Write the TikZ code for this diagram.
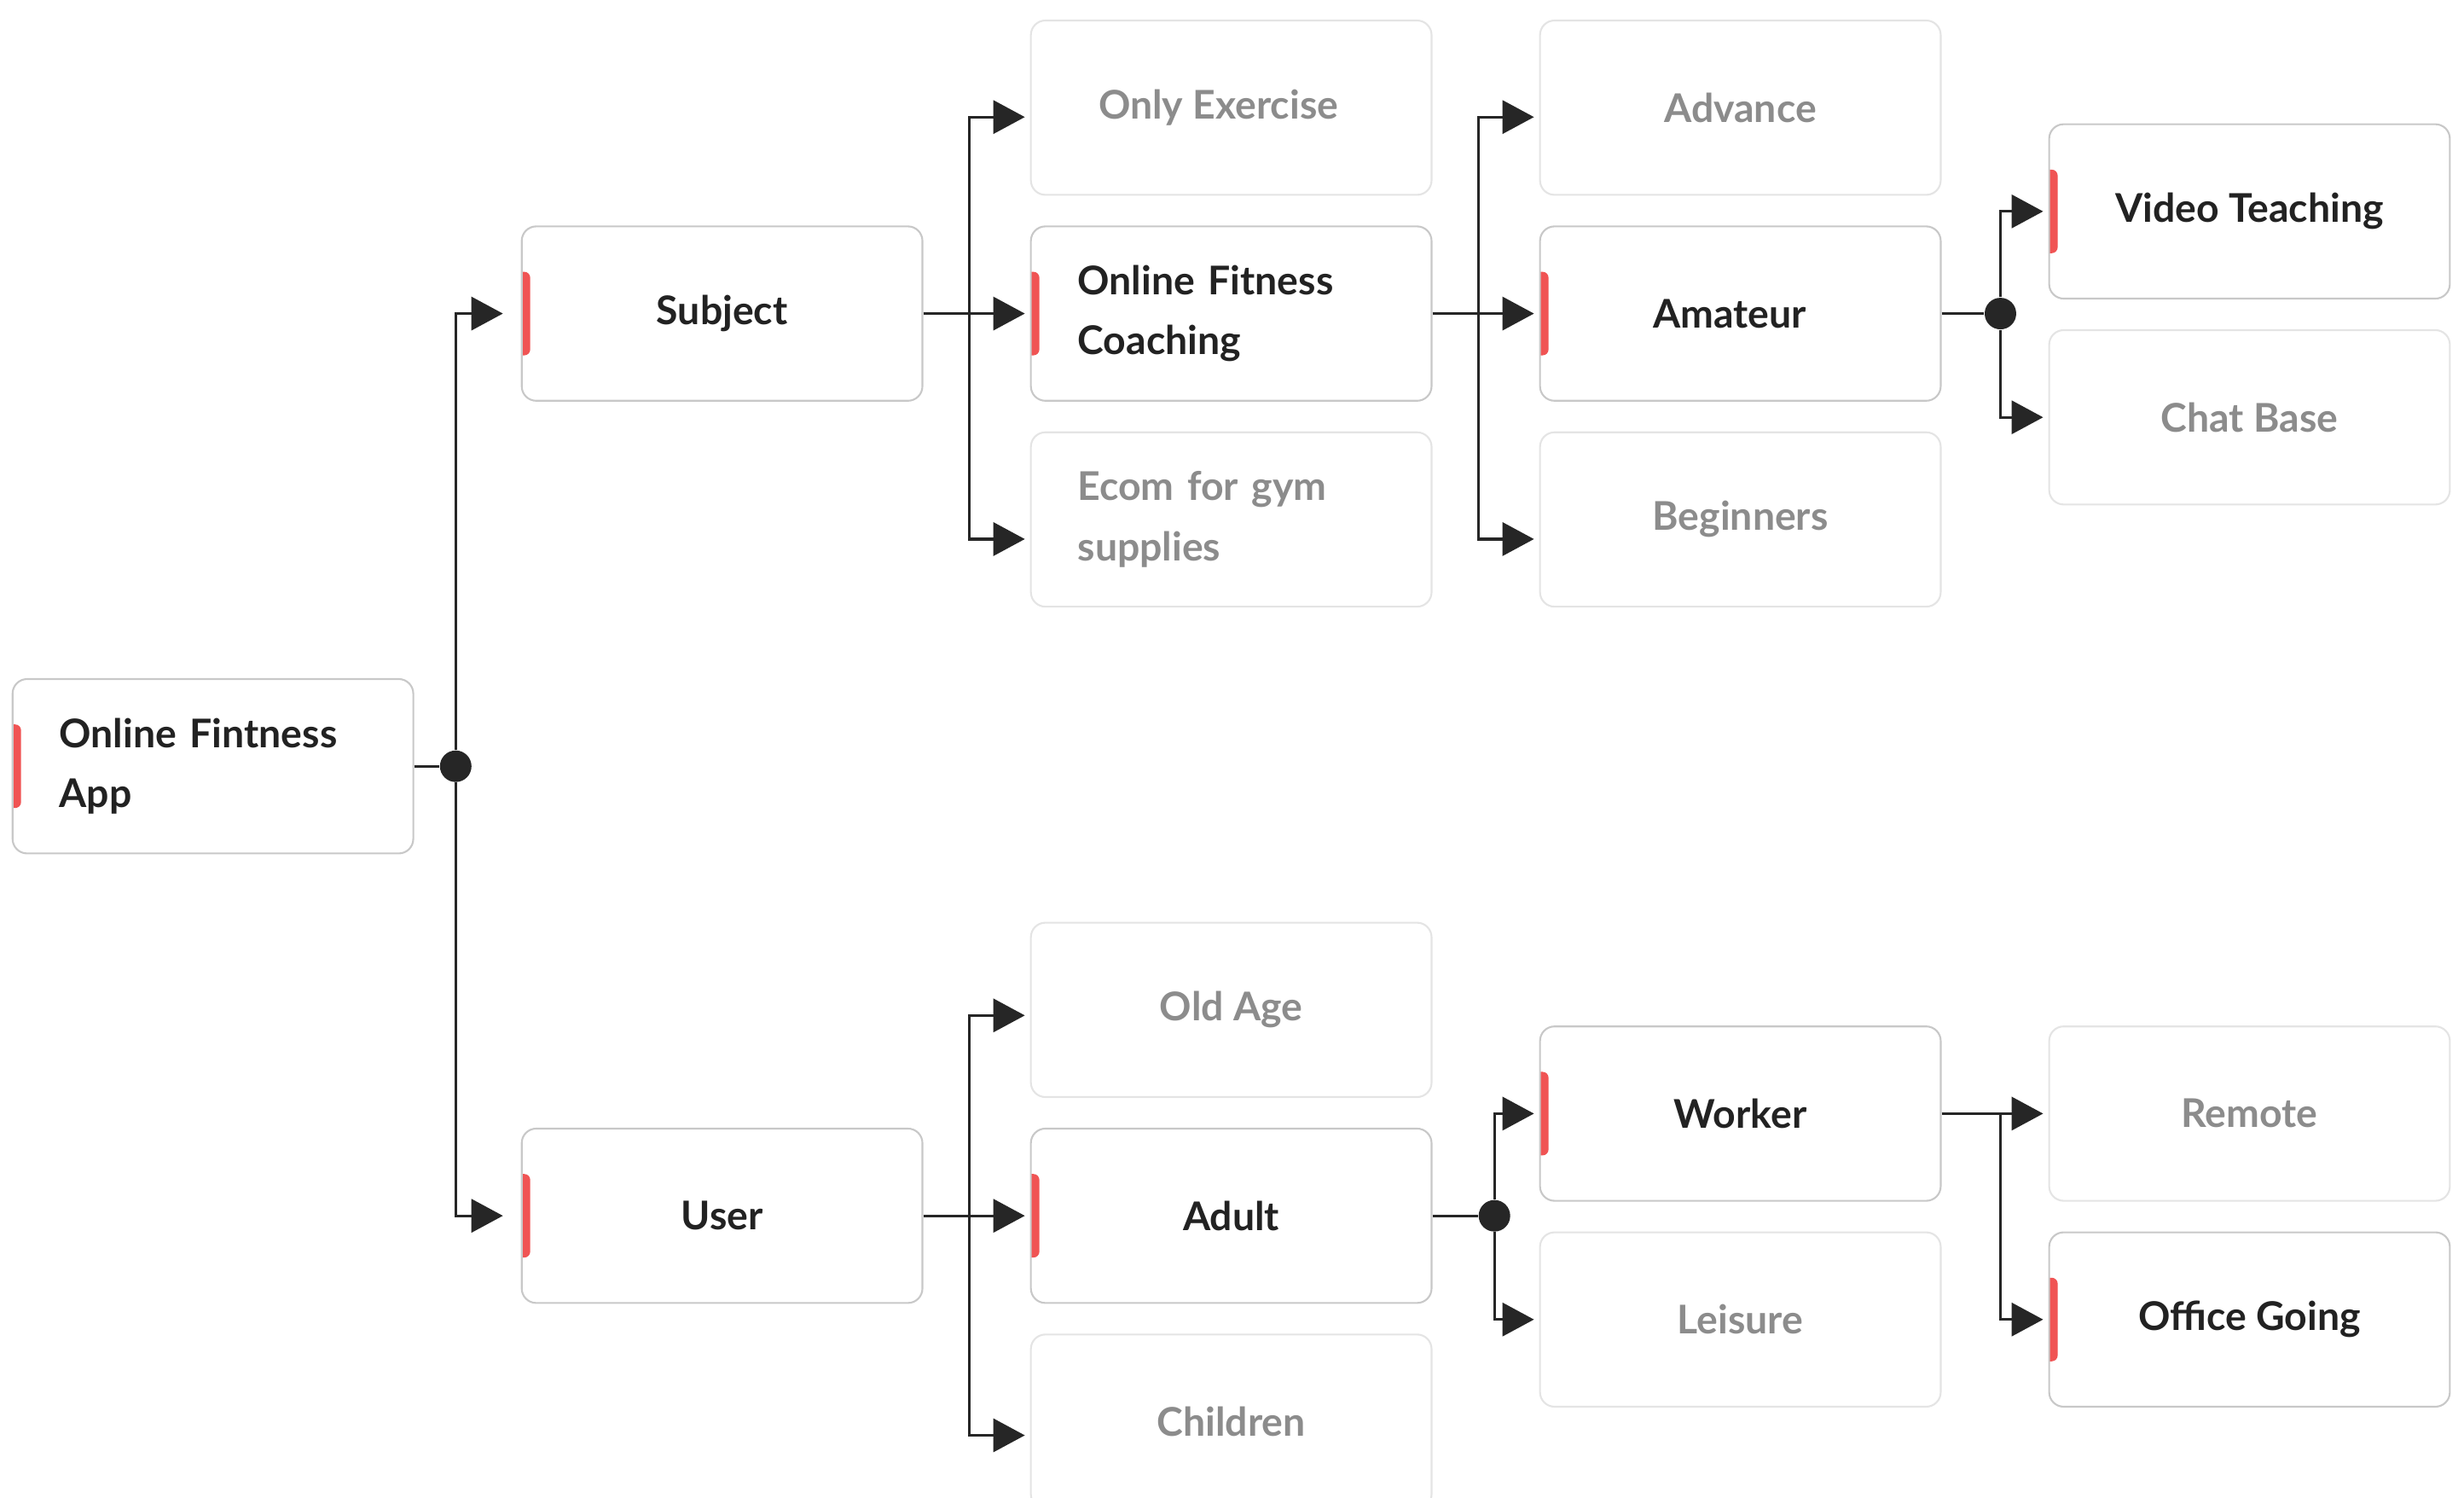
\documentclass[tikz,border=0pt]{standalone}
\usepackage{fontspec}
\setmainfont{Lato}
\usepackage{xcolor}
\usepackage{tikz}
\usetikzlibrary{arrows.meta}

\definecolor{linkclr}{RGB}{38,38,38}
\definecolor{markred}{RGB}{240,84,84}
\definecolor{boxline}{RGB}{200,200,200}
\definecolor{boxlight}{RGB}{228,228,228}
\definecolor{darktext}{RGB}{34,34,34}
\definecolor{greytext}{RGB}{140,140,140}

\begin{document}
\begin{tikzpicture}[
    x=0.018425cm, y=-0.018425cm,
    box/.style={draw=boxline, line width=0.6pt, rounded corners=0.17cm, fill=white,
                minimum width=4.7cm, minimum height=2.045cm, inner sep=0pt, align=center,
                font=\fontsize{13.2}{20}\selectfont\bfseries},
    % ── highlighted topics (red tab on the left) ──
    keynode/.style={box, text=darktext,
        path picture={\fill[markred, rounded corners=0.07cm]
            ([xshift=-0.2cm, yshift=0.49cm]path picture bounding box.west) rectangle
            ([xshift=0.1cm, yshift=-0.49cm]path picture bounding box.west);}},
    % ── faded topics ──
    plainnode/.style={box, draw=boxlight, text=greytext},
    wrap/.style={text width=3.6cm, align=left},
    link/.style={draw=linkclr, line width=0.95pt},
    arr/.style={link, -{Triangle[length=0.37cm, width=0.39cm]}, shorten >=0.06cm},
    junction/.style={circle, fill=linkclr, inner sep=0pt, minimum size=0.37cm},
]

\useasboundingbox (0,0) rectangle (1568,953);

% ══════════════════════════════════════
% Column 1 and 2
% ══════════════════════════════════════
\node[keynode, wrap] (root) at (135.5,487.5) {Online Fintness\\App};
\node[keynode] (subject) at (459.5,199.5) {Subject};
\node[keynode] (user) at (459.5,773.5) {User};

% ══════════════════════════════════════
% Column 3
% ══════════════════════════════════════
\node[plainnode] (onlyex) at (783.5,68.5) {Only Exercise\hspace{0.3cm}};
\node[keynode, wrap] (coach) at (783.5,199.5) {Online Fitness\\Coaching};
\node[plainnode, wrap] (ecom) at (783.5,330.5) {Ecom for gym\\supplies};
\node[plainnode] (oldage) at (783.5,642.5) {Old Age};
\node[keynode] (adult) at (783.5,773.5) {Adult};
\node[plainnode] (children) at (783.5,904.5) {Children};

% ══════════════════════════════════════
% Column 4
% ══════════════════════════════════════
\node[plainnode] (advance) at (1107.5,68.5) {Advance};
\node[keynode] (amateur) at (1107.5,199.5) {Amateur\hspace{0.25cm}};
\node[plainnode] (beginners) at (1107.5,330.5) {Beginners};
\node[keynode] (worker) at (1107.5,708.5) {Worker};
\node[plainnode] (leisure) at (1107.5,839.5) {Leisure};

% ══════════════════════════════════════
% Column 5
% ══════════════════════════════════════
\node[keynode] (video) at (1431.5,134.5) {Video Teaching};
\node[plainnode] (chat) at (1431.5,265.5) {Chat Base};
\node[plainnode] (remote) at (1431.5,708.5) {Remote};
\node[keynode] (office) at (1431.5,839.5) {Office Going};

% ── junctions ──
\node[junction] (j0) at (290,487.5) {};
\coordinate (j1) at (617,199.5);
\coordinate (j2) at (941,199.5);
\node[junction] (j3) at (1273,199.5) {};
\coordinate (j4) at (617,773.5);
\node[junction] (j5) at (951,773.5) {};
\coordinate (j6) at (1273,708.5);

% ── connectors ──
\draw[link] (root) -- (j0);
\draw[arr, shorten >=0.21cm] (j0) |- (subject);
\draw[arr, shorten >=0.21cm] (j0) |- (user);

\draw[arr] (subject) -- (coach);
\draw[arr] (j1) |- ([yshift=-0.11cm]onlyex.west);
\draw[arr] (j1) |- ([yshift=-0.23cm]ecom.west);

\draw[arr] (coach) -- (amateur);
\draw[arr] (j2) |- ([yshift=-0.11cm]advance.west);
\draw[arr] (j2) |- ([yshift=-0.23cm]beginners.west);

\draw[link] (amateur) -- (j3);
\draw[arr] (j3) |- (video);
\draw[arr] (j3) |- (chat);

\draw[arr] (user) -- (adult);
\draw[arr] (j4) |- ([yshift=-0.065cm]oldage.west);
\draw[arr] (j4) |- ([yshift=-0.16cm]children.west);

\draw[link] (adult) -- (j5);
\draw[arr] (j5) |- (worker);
\draw[arr] (j5) |- (leisure);

\draw[arr] (worker) -- (remote);
\draw[arr] (j6) |- (office);

\end{tikzpicture}
\end{document}
